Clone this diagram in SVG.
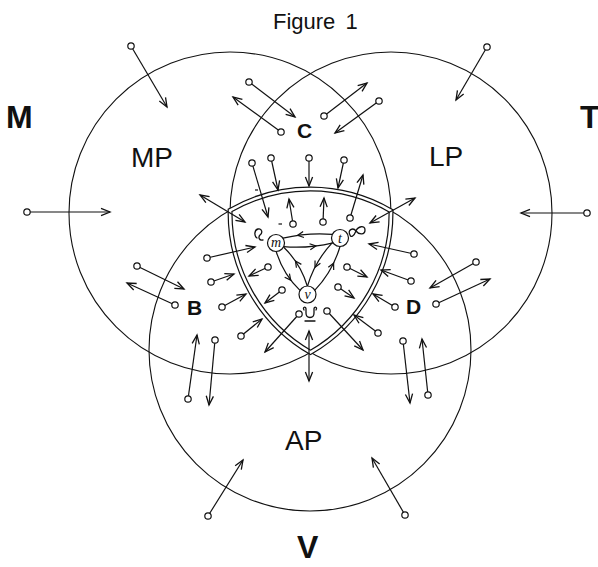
<svg xmlns="http://www.w3.org/2000/svg" width="598" height="567" viewBox="0 0 598 567">
<style>
.ring{fill:none;stroke:#111;stroke-width:1.1}
.txt{font-family:"Liberation Sans",Arial,sans-serif;fill:#111}
.big{font-size:28px}
.reg{font-size:21px;font-weight:bold}
.pole{font-size:32px;font-weight:bold}
.ar{fill:none;stroke:#111;stroke-width:1.2;marker-end:url(#ah)}
.dbl{fill:none;stroke:#111;stroke-width:1.2;marker-end:url(#ah);marker-start:url(#ah)}
.ln{fill:none;stroke:#111;stroke-width:1.2}
.tail{fill:#fff;stroke:#111;stroke-width:1.2}
.node{fill:#fff;stroke:#111;stroke-width:1.2}
.nl{font-family:"Liberation Serif","Times New Roman",serif;font-style:italic;font-size:14px;text-anchor:middle;fill:#111}
.sq{fill:none;stroke:#111;stroke-width:1.3;stroke-linecap:round}
</style>
<defs>
<marker id="ah" markerUnits="userSpaceOnUse" viewBox="-11 -6 13 12" refX="0" refY="0" markerWidth="13" markerHeight="12" orient="auto-start-reverse" overflow="visible">
<path d="M-9,-3.6 L0,0 L-9,3.6" fill="none" stroke="#111" stroke-width="1.3"/>
</marker>
<path id="chev" d="M-6,-3 L0,0 L-6,3" fill="none" stroke="#111" stroke-width="1.2"/>
</defs>
<rect width="598" height="567" fill="#fff"/>

<g id="MP"><circle class="ring" cx="230" cy="213" r="161"/><text class="txt big" x="131" y="167">MP</text></g>
<g id="LP"><circle class="ring" cx="391" cy="213" r="161"/><text class="txt big" x="429" y="166">LP</text></g>
<g id="AP"><circle class="ring" cx="310" cy="350" r="161"/><text class="txt big" x="285" y="450">AP</text></g>

<g id="core">
<path d="M230.1,210.3 A161,161 0 0 1 391,210.8 A161,161 0 0 1 310.5,352.4 A161,161 0 0 1 230.1,210.3 Z" fill="none" stroke="#111" stroke-width="5"/>
<path d="M230.1,210.3 A161,161 0 0 1 391,210.8 A161,161 0 0 1 310.5,352.4 A161,161 0 0 1 230.1,210.3 Z" fill="none" stroke="#fff" stroke-width="2.6"/>
</g>

<g id="title"><text class="txt" x="273" y="29" font-size="22" word-spacing="4">Figure 1</text></g>
<g id="M"><text class="txt pole" x="6" y="128">M</text></g>
<g id="T"><text class="txt pole" x="580" y="128">T</text></g>
<g id="V"><text class="txt pole" x="297" y="558" font-size="28">V</text></g>
<g id="C"><text class="txt reg" x="297" y="138">C</text></g>
<g id="B"><text class="txt reg" x="187" y="315">B</text></g>
<g id="D"><text class="txt reg" x="406" y="314">D</text></g>

<g id="links">
<path class="ln" d="M283,238.2 Q307.4,232.3 332.3,234.3"/>
<use href="#chev" transform="translate(297.6,235.4) rotate(171.8)"/>
<path class="ln" d="M283.7,246.7 Q308.6,248.7 333,242.8"/>
<use href="#chev" transform="translate(315.9,246) rotate(-7.3)"/>
<path class="ln" d="M276.2,251.5 Q283,274.1 300,290.4"/>
<use href="#chev" transform="translate(290.7,280.1) rotate(52.5)"/>
<path class="ln" d="M283.5,247 Q300.5,263.4 307.3,286"/>
<use href="#chev" transform="translate(295.5,261.1) rotate(235.7)"/>
<path class="ln" d="M332.6,242.3 Q314.8,261.2 307.5,286"/>
<use href="#chev" transform="translate(315,267.2) rotate(117)"/>
<path class="ln" d="M340,246.5 Q332.7,271.4 314.9,290.2"/>
<use href="#chev" transform="translate(333.6,263.2) rotate(295.8)"/>
</g>

<g id="m"><circle class="node" cx="276" cy="243" r="8.5"/><text class="nl" x="276" y="247">m</text></g>
<g id="t"><circle class="node" cx="340" cy="238" r="8.5"/><text class="nl" x="340" y="242.5">t</text></g>
<g id="v"><circle class="node" cx="307.5" cy="294.5" r="8.5"/><text class="nl" x="307.5" y="298.5">v</text></g>

<g id="loops">
<path class="sq" d="M257,238 C254,236 254,230 258,229 C262,228 263,233 260,235 C258,237 259,241 263,240"/>
<path class="sq" d="M350,235 C347,230 353,227 356,231 C359,235 365,235 365,230 C365,225 358,226 356,231 C354,236 351,238 350,235"/>
<path class="sq" d="M304,310 C302,307 306,306 306,309 L306,313 C306,319 314,319 314,313 L314,309 C314,306 318,307 316,310 M305,321 L315,321"/>
<path class="ln" d="M278.5,224 L282,224"/>
<path class="ln" d="M255,190 L258,190"/>
</g>

<g id="connectors">
<line class="ar" x1="131" y1="46" x2="167" y2="107"/>
<line class="ar" x1="249" y1="82" x2="295" y2="117"/>
<line class="ar" x1="281" y1="132" x2="233" y2="97"/>
<line class="ar" x1="252" y1="163" x2="268" y2="217"/>
<line class="ar" x1="271" y1="158" x2="278" y2="190"/>
<line class="ar" x1="487" y1="47" x2="456" y2="100"/>
<line class="ar" x1="324" y1="116" x2="367" y2="83"/>
<line class="ar" x1="379" y1="101" x2="335" y2="133"/>
<line class="ar" x1="309" y1="158" x2="309" y2="186"/>
<line class="ar" x1="344" y1="160" x2="338" y2="188"/>
<line class="ar" x1="350" y1="218" x2="363" y2="175"/>
<line class="ar" x1="293" y1="224" x2="289" y2="199"/>
<line class="ar" x1="323" y1="222" x2="324" y2="198"/>
<line class="dbl" x1="200" y1="195" x2="245" y2="222"/>
<line class="ar" x1="207" y1="258" x2="255" y2="247"/>
<line class="ar" x1="268" y1="267" x2="249" y2="276"/>
<line class="ar" x1="27" y1="212" x2="110" y2="212"/>
<line class="ar" x1="137" y1="266" x2="184" y2="289"/>
<line class="ar" x1="175" y1="305" x2="127" y2="283"/>
<line class="ar" x1="211" y1="282" x2="234" y2="274"/>
<line class="ar" x1="222" y1="307" x2="246" y2="294"/>
<line class="ar" x1="282" y1="290" x2="265" y2="303"/>
<line class="ar" x1="241" y1="336" x2="262" y2="319"/>
<line class="ar" x1="299" y1="314" x2="265" y2="352"/>
<line class="ar" x1="215" y1="340" x2="209" y2="405"/>
<line class="ar" x1="188" y1="399" x2="197" y2="335"/>
<line class="ar" x1="327" y1="311" x2="363" y2="350"/>
<line class="dbl" x1="309" y1="331" x2="309" y2="381"/>
<line class="ar" x1="338" y1="287" x2="354" y2="298"/>
<line class="ar" x1="395" y1="307" x2="373" y2="294"/>
<line class="ar" x1="378" y1="333" x2="354" y2="315"/>
<line class="ar" x1="347" y1="267" x2="367" y2="277"/>
<line class="ar" x1="411" y1="281" x2="381" y2="270"/>
<line class="ar" x1="414" y1="254" x2="369" y2="244"/>
<line class="dbl" x1="370" y1="223" x2="415" y2="198"/>
<line class="ar" x1="587" y1="213" x2="521" y2="213"/>
<line class="ar" x1="476" y1="262" x2="430" y2="288"/>
<line class="ar" x1="436" y1="304" x2="490" y2="279"/>
<line class="ar" x1="403" y1="341" x2="410" y2="403"/>
<line class="ar" x1="428" y1="395" x2="422" y2="339"/>
<line class="ar" x1="208" y1="516" x2="243" y2="460"/>
<line class="ar" x1="405" y1="515" x2="372" y2="458"/>
<g id="tails">
<circle class="tail" cx="131" cy="46" r="3.2"/>
<circle class="tail" cx="249" cy="82" r="3.2"/>
<circle class="tail" cx="281" cy="132" r="3.2"/>
<circle class="tail" cx="252" cy="163" r="3.2"/>
<circle class="tail" cx="271" cy="158" r="3.2"/>
<circle class="tail" cx="487" cy="47" r="3.2"/>
<circle class="tail" cx="324" cy="116" r="3.2"/>
<circle class="tail" cx="379" cy="101" r="3.2"/>
<circle class="tail" cx="309" cy="158" r="3.2"/>
<circle class="tail" cx="344" cy="160" r="3.2"/>
<circle class="tail" cx="350" cy="218" r="3.2"/>
<circle class="tail" cx="293" cy="224" r="3.2"/>
<circle class="tail" cx="323" cy="222" r="3.2"/>
<circle class="tail" cx="207" cy="258" r="3.2"/>
<circle class="tail" cx="268" cy="267" r="3.2"/>
<circle class="tail" cx="27" cy="212" r="3.2"/>
<circle class="tail" cx="137" cy="266" r="3.2"/>
<circle class="tail" cx="175" cy="305" r="3.2"/>
<circle class="tail" cx="211" cy="282" r="3.2"/>
<circle class="tail" cx="222" cy="307" r="3.2"/>
<circle class="tail" cx="282" cy="290" r="3.2"/>
<circle class="tail" cx="241" cy="336" r="3.2"/>
<circle class="tail" cx="299" cy="314" r="3.2"/>
<circle class="tail" cx="215" cy="340" r="3.2"/>
<circle class="tail" cx="188" cy="399" r="3.2"/>
<circle class="tail" cx="327" cy="311" r="3.2"/>
<circle class="tail" cx="338" cy="287" r="3.2"/>
<circle class="tail" cx="395" cy="307" r="3.2"/>
<circle class="tail" cx="378" cy="333" r="3.2"/>
<circle class="tail" cx="347" cy="267" r="3.2"/>
<circle class="tail" cx="411" cy="281" r="3.2"/>
<circle class="tail" cx="414" cy="254" r="3.2"/>
<circle class="tail" cx="587" cy="213" r="3.2"/>
<circle class="tail" cx="476" cy="262" r="3.2"/>
<circle class="tail" cx="436" cy="304" r="3.2"/>
<circle class="tail" cx="403" cy="341" r="3.2"/>
<circle class="tail" cx="428" cy="395" r="3.2"/>
<circle class="tail" cx="208" cy="516" r="3.2"/>
<circle class="tail" cx="405" cy="515" r="3.2"/>
</g>
</g>
</svg>
